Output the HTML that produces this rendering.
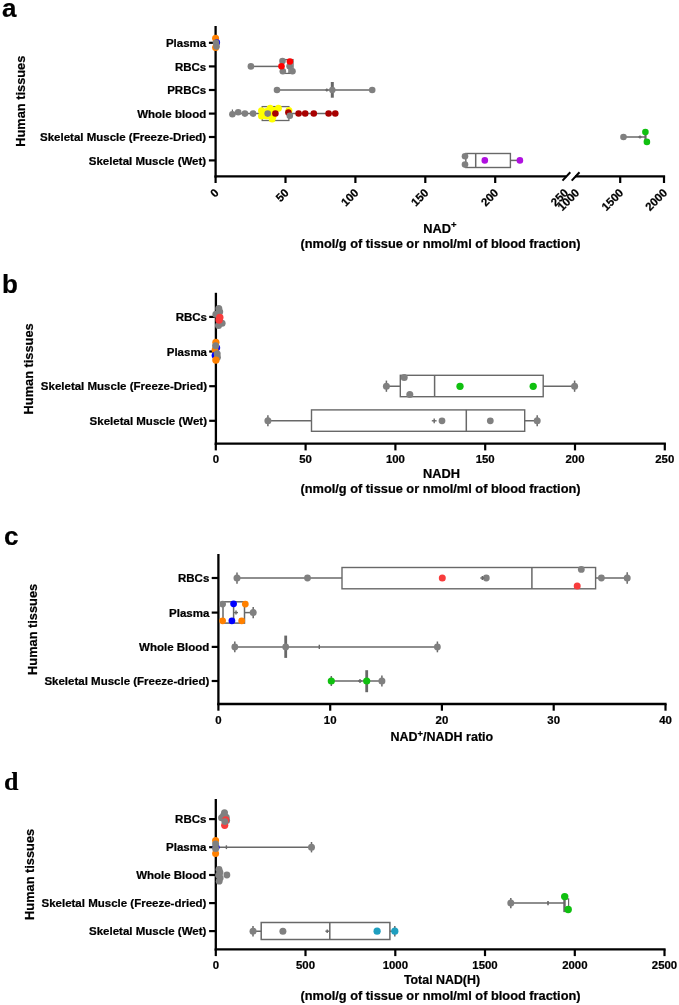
<!DOCTYPE html>
<html><head><meta charset="utf-8"><title>Figure</title>
<style>
html,body{margin:0;padding:0;background:#fff;}
svg{display:block;will-change:transform;font-family:"Liberation Sans",sans-serif;fill:#000;}
text{stroke:#000;stroke-width:0.22px;}
</style></head><body>
<svg width="679" height="1005" viewBox="0 0 679 1005">
<rect width="679" height="1005" fill="#fff"/>
<text x="2" y="16.8" font-size="26" text-anchor="start" font-family="Liberation Sans" font-weight="bold">a</text>
<text transform="translate(25.3,101.2) rotate(-90)" font-size="12.8" text-anchor="middle" font-weight="bold">Human tissues</text>
<line x1="215.6" y1="26" x2="215.6" y2="177.5" stroke="#000" stroke-width="2.3"/>
<line x1="208.9" y1="42.8" x2="215.6" y2="42.8" stroke="#000" stroke-width="2.2"/>
<text x="206.2" y="46.9" font-size="11.5" text-anchor="end" font-family="Liberation Sans" font-weight="bold">Plasma</text>
<line x1="208.9" y1="66.4" x2="215.6" y2="66.4" stroke="#000" stroke-width="2.2"/>
<text x="206.2" y="70.5" font-size="11.5" text-anchor="end" font-family="Liberation Sans" font-weight="bold">RBCs</text>
<line x1="208.9" y1="90" x2="215.6" y2="90" stroke="#000" stroke-width="2.2"/>
<text x="206.2" y="94.1" font-size="11.5" text-anchor="end" font-family="Liberation Sans" font-weight="bold">PRBCs</text>
<line x1="208.9" y1="113.6" x2="215.6" y2="113.6" stroke="#000" stroke-width="2.2"/>
<text x="206.2" y="117.7" font-size="11.5" text-anchor="end" font-family="Liberation Sans" font-weight="bold">Whole blood</text>
<line x1="208.9" y1="137" x2="215.6" y2="137" stroke="#000" stroke-width="2.2"/>
<text x="206.2" y="141.1" font-size="11.5" text-anchor="end" font-family="Liberation Sans" font-weight="bold">Skeletal Muscle (Freeze-Dried)</text>
<line x1="208.9" y1="160.4" x2="215.6" y2="160.4" stroke="#000" stroke-width="2.2"/>
<text x="206.2" y="164.5" font-size="11.5" text-anchor="end" font-family="Liberation Sans" font-weight="bold">Skeletal Muscle (Wet)</text>
<line x1="214.5" y1="176.4" x2="566.5" y2="176.4" stroke="#000" stroke-width="2.3"/>
<line x1="575" y1="176.4" x2="665.1" y2="176.4" stroke="#000" stroke-width="2.3"/>
<line x1="562.5" y1="180.6" x2="570.3" y2="172.2" stroke="#000" stroke-width="2"/>
<line x1="571.7" y1="180.6" x2="579.5" y2="172.2" stroke="#000" stroke-width="2"/>
<line x1="215.6" y1="176.4" x2="215.6" y2="183" stroke="#000" stroke-width="2.2"/>
<text transform="translate(219.5,193.6) rotate(-45)" font-size="11.4" text-anchor="end" font-weight="bold">0</text>
<line x1="285.5" y1="176.4" x2="285.5" y2="183" stroke="#000" stroke-width="2.2"/>
<text transform="translate(289.4,193.6) rotate(-45)" font-size="11.4" text-anchor="end" font-weight="bold">50</text>
<line x1="355.4" y1="176.4" x2="355.4" y2="183" stroke="#000" stroke-width="2.2"/>
<text transform="translate(359.3,193.6) rotate(-45)" font-size="11.4" text-anchor="end" font-weight="bold">100</text>
<line x1="425.3" y1="176.4" x2="425.3" y2="183" stroke="#000" stroke-width="2.2"/>
<text transform="translate(429.2,193.6) rotate(-45)" font-size="11.4" text-anchor="end" font-weight="bold">150</text>
<line x1="495.2" y1="176.4" x2="495.2" y2="183" stroke="#000" stroke-width="2.2"/>
<text transform="translate(499.1,193.6) rotate(-45)" font-size="11.4" text-anchor="end" font-weight="bold">200</text>
<text transform="translate(569.0,193.6) rotate(-45)" font-size="11.4" text-anchor="end" font-weight="bold">250</text>
<text transform="translate(580.1,193.6) rotate(-45)" font-size="11.4" text-anchor="end" font-weight="bold">1000</text>
<line x1="620.2" y1="176.4" x2="620.2" y2="183" stroke="#000" stroke-width="2.2"/>
<text transform="translate(624.1,193.6) rotate(-45)" font-size="11.4" text-anchor="end" font-weight="bold">1500</text>
<line x1="664" y1="176.4" x2="664" y2="183" stroke="#000" stroke-width="2.2"/>
<text transform="translate(667.9,193.6) rotate(-45)" font-size="11.4" text-anchor="end" font-weight="bold">2000</text>
<text x="440" y="232.5" font-size="12.8" text-anchor="middle" font-family="Liberation Sans" font-weight="bold">NAD<tspan dy="-4.5" font-size="9.5">+</tspan></text>
<text x="440.5" y="248" font-size="12.8" text-anchor="middle" font-family="Liberation Sans" font-weight="bold">(nmol/g of tissue or nmol/ml of blood fraction)</text>
<circle cx="215.6" cy="38.2" r="3.5" fill="#ff8000"/>
<circle cx="215.6" cy="47.6" r="3.5" fill="#ff8000"/>
<circle cx="216.9" cy="42.4" r="3.2" fill="#0000ff"/>
<circle cx="216" cy="42.7" r="3.3" fill="#808080"/>
<circle cx="216.5" cy="46.4" r="3.3" fill="#808080"/>
<line x1="251" y1="66.4" x2="283" y2="66.4" stroke="#686868" stroke-width="1.5"/>
<rect x="283" y="59.6" width="10" height="13.8" fill="#fff" stroke="#686868" stroke-width="1.3"/>
<line x1="289" y1="59.6" x2="289" y2="73.4" stroke="#686868" stroke-width="1.3"/>
<circle cx="250.9" cy="66.4" r="3.3" fill="#808080"/>
<circle cx="282.5" cy="61" r="3.3" fill="#808080"/>
<circle cx="289.6" cy="66.3" r="3.3" fill="#808080"/>
<circle cx="282.8" cy="71.2" r="3.3" fill="#808080"/>
<circle cx="292.5" cy="71.2" r="3.3" fill="#808080"/>
<circle cx="289.9" cy="61.5" r="3.3" fill="#ff0000"/>
<circle cx="281.5" cy="66.2" r="3.3" fill="#ff0000"/>
<line x1="277" y1="90" x2="372" y2="90" stroke="#686868" stroke-width="1.5"/>
<line x1="332.3" y1="82" x2="332.3" y2="97.7" stroke="#686868" stroke-width="3"/>
<line x1="325.3" y1="90" x2="328.3" y2="90" stroke="#686868" stroke-width="1.4"/>
<line x1="326.8" y1="88.5" x2="326.8" y2="91.5" stroke="#686868" stroke-width="1.4"/>
<circle cx="277" cy="90" r="3.3" fill="#808080"/>
<circle cx="372.2" cy="90" r="3.3" fill="#808080"/>
<circle cx="332.3" cy="90" r="3.2" fill="#808080"/>
<line x1="232" y1="113.6" x2="335" y2="113.6" stroke="#686868" stroke-width="1.5"/>
<rect x="262.2" y="106.6" width="26.7" height="13.9" fill="#fff" stroke="#686868" stroke-width="1.3"/>
<line x1="232.4" y1="109.5" x2="232.4" y2="113" stroke="#686868" stroke-width="1.2"/>
<circle cx="261.5" cy="110.8" r="3.5" fill="#ffff00"/>
<circle cx="261.5" cy="116.1" r="3.5" fill="#ffff00"/>
<circle cx="270.1" cy="108.2" r="3.5" fill="#ffff00"/>
<circle cx="278.4" cy="108.2" r="3.5" fill="#ffff00"/>
<circle cx="272.1" cy="119" r="3.5" fill="#ffff00"/>
<circle cx="288.9" cy="110.4" r="3.5" fill="#ffff00"/>
<circle cx="266.5" cy="111.5" r="3.5" fill="#ffff00"/>
<circle cx="266.5" cy="116" r="3.5" fill="#ffff00"/>
<circle cx="271" cy="113" r="3.5" fill="#ffff00"/>
<circle cx="274.5" cy="110.5" r="3.5" fill="#ffff00"/>
<circle cx="273" cy="116.5" r="3.5" fill="#ffff00"/>
<circle cx="232.4" cy="114.3" r="3.3" fill="#808080"/>
<circle cx="238.2" cy="112.2" r="3.3" fill="#808080"/>
<circle cx="244.9" cy="113.6" r="3.3" fill="#808080"/>
<circle cx="253.1" cy="113.6" r="3.3" fill="#808080"/>
<circle cx="267.7" cy="113.6" r="3.3" fill="#808080"/>
<circle cx="275.4" cy="113.5" r="3.3" fill="#a80000"/>
<circle cx="288.4" cy="112.6" r="3.3" fill="#a80000"/>
<circle cx="298.6" cy="113.5" r="3.3" fill="#a80000"/>
<circle cx="305.2" cy="113.5" r="3.3" fill="#a80000"/>
<circle cx="313.8" cy="113.5" r="3.3" fill="#a80000"/>
<circle cx="328.6" cy="113.5" r="3.3" fill="#a80000"/>
<circle cx="335.3" cy="113.5" r="3.3" fill="#a80000"/>
<circle cx="289.8" cy="115.7" r="3.3" fill="#808080"/>
<line x1="623.5" y1="137" x2="645" y2="137" stroke="#686868" stroke-width="1.5"/>
<line x1="645.5" y1="132.5" x2="645.5" y2="141.5" stroke="#686868" stroke-width="2.2"/>
<line x1="638.4" y1="137" x2="641.6" y2="137" stroke="#686868" stroke-width="1.4"/>
<line x1="640" y1="135.4" x2="640" y2="138.6" stroke="#686868" stroke-width="1.4"/>
<circle cx="623.5" cy="137" r="3.3" fill="#808080"/>
<circle cx="645.4" cy="132.1" r="3.3" fill="#10c010"/>
<circle cx="646.9" cy="141.9" r="3.3" fill="#10c010"/>
<rect x="465.8" y="153.5" width="44.6" height="14.0" fill="none" stroke="#686868" stroke-width="1.4"/>
<line x1="475.7" y1="153.5" x2="475.7" y2="167.5" stroke="#686868" stroke-width="1.5"/>
<line x1="510.4" y1="160.4" x2="520" y2="160.4" stroke="#686868" stroke-width="1.5"/>
<circle cx="465" cy="156.2" r="3.3" fill="#808080"/>
<circle cx="465" cy="164.6" r="3.3" fill="#808080"/>
<circle cx="484.8" cy="160.4" r="3.3" fill="#b010e0"/>
<circle cx="519.9" cy="160.4" r="3.3" fill="#b010e0"/>
<text x="2" y="293.4" font-size="26" text-anchor="start" font-family="Liberation Sans" font-weight="bold">b</text>
<text transform="translate(33.1,368.9) rotate(-90)" font-size="12.8" text-anchor="middle" font-weight="bold">Human tissues</text>
<line x1="215.9" y1="292.8" x2="215.9" y2="444.8" stroke="#000" stroke-width="2.3"/>
<line x1="209.2" y1="316.9" x2="215.9" y2="316.9" stroke="#000" stroke-width="2.2"/>
<text x="207" y="321.0" font-size="11.5" text-anchor="end" font-family="Liberation Sans" font-weight="bold">RBCs</text>
<line x1="209.2" y1="351.5" x2="215.9" y2="351.5" stroke="#000" stroke-width="2.2"/>
<text x="207" y="355.6" font-size="11.5" text-anchor="end" font-family="Liberation Sans" font-weight="bold">Plasma</text>
<line x1="209.2" y1="386.2" x2="215.9" y2="386.2" stroke="#000" stroke-width="2.2"/>
<text x="207" y="390.3" font-size="11.5" text-anchor="end" font-family="Liberation Sans" font-weight="bold">Skeletal Muscle (Freeze-Dried)</text>
<line x1="209.2" y1="420.8" x2="215.9" y2="420.8" stroke="#000" stroke-width="2.2"/>
<text x="207" y="424.9" font-size="11.5" text-anchor="end" font-family="Liberation Sans" font-weight="bold">Skeletal Muscle (Wet)</text>
<line x1="214.7" y1="443.7" x2="665.9" y2="443.7" stroke="#000" stroke-width="2.3"/>
<line x1="215.8" y1="443.7" x2="215.8" y2="450.4" stroke="#000" stroke-width="2.2"/>
<text x="215.8" y="463.4" font-size="11.4" text-anchor="middle" font-family="Liberation Sans" font-weight="bold">0</text>
<line x1="305.6" y1="443.7" x2="305.6" y2="450.4" stroke="#000" stroke-width="2.2"/>
<text x="305.6" y="463.4" font-size="11.4" text-anchor="middle" font-family="Liberation Sans" font-weight="bold">50</text>
<line x1="395.4" y1="443.7" x2="395.4" y2="450.4" stroke="#000" stroke-width="2.2"/>
<text x="395.4" y="463.4" font-size="11.4" text-anchor="middle" font-family="Liberation Sans" font-weight="bold">100</text>
<line x1="485.2" y1="443.7" x2="485.2" y2="450.4" stroke="#000" stroke-width="2.2"/>
<text x="485.2" y="463.4" font-size="11.4" text-anchor="middle" font-family="Liberation Sans" font-weight="bold">150</text>
<line x1="575" y1="443.7" x2="575" y2="450.4" stroke="#000" stroke-width="2.2"/>
<text x="575" y="463.4" font-size="11.4" text-anchor="middle" font-family="Liberation Sans" font-weight="bold">200</text>
<line x1="664.8" y1="443.7" x2="664.8" y2="450.4" stroke="#000" stroke-width="2.2"/>
<text x="664.8" y="463.4" font-size="11.4" text-anchor="middle" font-family="Liberation Sans" font-weight="bold">250</text>
<text x="441.4" y="478" font-size="12.8" text-anchor="middle" font-family="Liberation Sans" font-weight="bold">NADH</text>
<text x="440.5" y="493" font-size="12.8" text-anchor="middle" font-family="Liberation Sans" font-weight="bold">(nmol/g of tissue or nmol/ml of blood fraction)</text>
<circle cx="218.8" cy="308.4" r="3.5" fill="#808080"/>
<circle cx="219.7" cy="311.8" r="3.5" fill="#808080"/>
<circle cx="215.9" cy="314.2" r="3.5" fill="#808080"/>
<circle cx="218.5" cy="325.6" r="3.5" fill="#808080"/>
<circle cx="222.1" cy="323.3" r="3.5" fill="#808080"/>
<circle cx="219.8" cy="317.4" r="3.7" fill="#f83c3c"/>
<circle cx="219.1" cy="320" r="3.7" fill="#f83c3c"/>
<circle cx="215.9" cy="342.3" r="3.6" fill="#ff8000"/>
<circle cx="216.8" cy="347.8" r="3.4" fill="#0000ff"/>
<circle cx="215" cy="350" r="3.4" fill="#ff8000"/>
<circle cx="215.6" cy="345.8" r="3.5" fill="#808080"/>
<circle cx="215" cy="355.5" r="3.4" fill="#0000ff"/>
<circle cx="217.2" cy="353.7" r="3.5" fill="#808080"/>
<circle cx="217.4" cy="357.3" r="3.5" fill="#808080"/>
<circle cx="215.9" cy="360.1" r="3.7" fill="#ff8000"/>
<line x1="386.4" y1="386.2" x2="574.6" y2="386.2" stroke="#686868" stroke-width="1.5"/>
<rect x="400.3" y="375.3" width="142.9" height="21.4" fill="#fff" stroke="#686868" stroke-width="1.4"/>
<line x1="434.6" y1="375.3" x2="434.6" y2="396.7" stroke="#686868" stroke-width="1.5"/>
<line x1="386.4" y1="380.6" x2="386.4" y2="391.8" stroke="#686868" stroke-width="1.5"/>
<line x1="574.6" y1="380.6" x2="574.6" y2="391.8" stroke="#686868" stroke-width="1.5"/>
<circle cx="386.4" cy="386.2" r="3.5" fill="#808080"/>
<circle cx="574.6" cy="386.2" r="3.5" fill="#808080"/>
<circle cx="404.2" cy="377.5" r="3.5" fill="#808080"/>
<circle cx="409.8" cy="394.5" r="3.5" fill="#808080"/>
<circle cx="460" cy="386.3" r="3.65" fill="#10c010"/>
<circle cx="533.2" cy="386.3" r="3.65" fill="#10c010"/>
<line x1="267.9" y1="420.8" x2="537.2" y2="420.8" stroke="#686868" stroke-width="1.5"/>
<rect x="311.5" y="409.9" width="213.2" height="21.4" fill="#fff" stroke="#686868" stroke-width="1.4"/>
<line x1="466.3" y1="409.9" x2="466.3" y2="431.3" stroke="#686868" stroke-width="1.5"/>
<line x1="267.9" y1="415.3" x2="267.9" y2="426.3" stroke="#686868" stroke-width="1.5"/>
<line x1="537.2" y1="415.3" x2="537.2" y2="426.3" stroke="#686868" stroke-width="1.5"/>
<circle cx="267.9" cy="420.8" r="3.5" fill="#808080"/>
<circle cx="537.2" cy="420.8" r="3.5" fill="#808080"/>
<circle cx="442" cy="420.8" r="3.4" fill="#808080"/>
<circle cx="490.3" cy="420.8" r="3.4" fill="#808080"/>
<line x1="431.8" y1="420.8" x2="436.6" y2="420.8" stroke="#686868" stroke-width="1.4"/>
<line x1="434.2" y1="418.4" x2="434.2" y2="423.2" stroke="#686868" stroke-width="1.4"/>
<text x="4" y="544.6" font-size="26" text-anchor="start" font-family="Liberation Sans" font-weight="bold">c</text>
<text transform="translate(37.3,629.4) rotate(-90)" font-size="12.8" text-anchor="middle" font-weight="bold">Human tissues</text>
<line x1="218.4" y1="554" x2="218.4" y2="705.1" stroke="#000" stroke-width="2.3"/>
<line x1="211.7" y1="578" x2="218.4" y2="578" stroke="#000" stroke-width="2.2"/>
<text x="209.3" y="582.1" font-size="11.5" text-anchor="end" font-family="Liberation Sans" font-weight="bold">RBCs</text>
<line x1="211.7" y1="612.6" x2="218.4" y2="612.6" stroke="#000" stroke-width="2.2"/>
<text x="209.3" y="616.7" font-size="11.5" text-anchor="end" font-family="Liberation Sans" font-weight="bold">Plasma</text>
<line x1="211.7" y1="646.9" x2="218.4" y2="646.9" stroke="#000" stroke-width="2.2"/>
<text x="209.3" y="651.0" font-size="11.5" text-anchor="end" font-family="Liberation Sans" font-weight="bold">Whole Blood</text>
<line x1="211.7" y1="681" x2="218.4" y2="681" stroke="#000" stroke-width="2.2"/>
<text x="209.3" y="685.1" font-size="11.5" text-anchor="end" font-family="Liberation Sans" font-weight="bold">Skeletal Muscle (Freeze-dried)</text>
<line x1="217.3" y1="704" x2="666.6" y2="704" stroke="#000" stroke-width="2.3"/>
<line x1="218.4" y1="704" x2="218.4" y2="710.7" stroke="#000" stroke-width="2.2"/>
<text x="218.4" y="723.5" font-size="11.4" text-anchor="middle" font-family="Liberation Sans" font-weight="bold">0</text>
<line x1="330.2" y1="704" x2="330.2" y2="710.7" stroke="#000" stroke-width="2.2"/>
<text x="330.2" y="723.5" font-size="11.4" text-anchor="middle" font-family="Liberation Sans" font-weight="bold">10</text>
<line x1="441.9" y1="704" x2="441.9" y2="710.7" stroke="#000" stroke-width="2.2"/>
<text x="441.9" y="723.5" font-size="11.4" text-anchor="middle" font-family="Liberation Sans" font-weight="bold">20</text>
<line x1="553.7" y1="704" x2="553.7" y2="710.7" stroke="#000" stroke-width="2.2"/>
<text x="553.7" y="723.5" font-size="11.4" text-anchor="middle" font-family="Liberation Sans" font-weight="bold">30</text>
<line x1="665.5" y1="704" x2="665.5" y2="710.7" stroke="#000" stroke-width="2.2"/>
<text x="665.5" y="723.5" font-size="11.4" text-anchor="middle" font-family="Liberation Sans" font-weight="bold">40</text>
<text x="441.8" y="741" font-size="12.5" text-anchor="middle" font-family="Liberation Sans" font-weight="bold">NAD<tspan dy="-4.5" font-size="9.5">+</tspan><tspan dy="4.5">/NADH ratio</tspan></text>
<line x1="237" y1="578" x2="627.2" y2="578" stroke="#686868" stroke-width="1.5"/>
<rect x="342" y="567.5" width="253.6" height="21.3" fill="#fff" stroke="#686868" stroke-width="1.4"/>
<line x1="531.9" y1="567.5" x2="531.9" y2="588.8" stroke="#686868" stroke-width="1.5"/>
<line x1="237" y1="572.4" x2="237" y2="583.7" stroke="#686868" stroke-width="1.5"/>
<line x1="627.2" y1="572.3" x2="627.2" y2="583.7" stroke="#686868" stroke-width="1.5"/>
<circle cx="237" cy="578" r="3.5" fill="#808080"/>
<circle cx="307.5" cy="578" r="3.4" fill="#808080"/>
<circle cx="442.3" cy="578" r="3.5" fill="#f83c3c"/>
<circle cx="486.3" cy="578" r="3.4" fill="#808080"/>
<line x1="480.3" y1="578" x2="484.3" y2="578" stroke="#686868" stroke-width="1.4"/>
<line x1="482.3" y1="576" x2="482.3" y2="580" stroke="#686868" stroke-width="1.4"/>
<circle cx="581.3" cy="569.4" r="3.4" fill="#808080"/>
<circle cx="577.2" cy="586" r="3.5" fill="#f83c3c"/>
<circle cx="601.4" cy="578" r="3.4" fill="#808080"/>
<circle cx="627.2" cy="578" r="3.5" fill="#808080"/>
<line x1="244.5" y1="612.6" x2="253.2" y2="612.6" stroke="#686868" stroke-width="1.5"/>
<rect x="223" y="601.8" width="21.5" height="21.3" fill="#fff" stroke="#686868" stroke-width="1.5"/>
<line x1="233.6" y1="601.8" x2="233.6" y2="623.1" stroke="#686868" stroke-width="1.5"/>
<line x1="234" y1="612.6" x2="238" y2="612.6" stroke="#686868" stroke-width="1.4"/>
<line x1="236" y1="610.6" x2="236" y2="614.6" stroke="#686868" stroke-width="1.4"/>
<line x1="253.2" y1="606.9" x2="253.2" y2="618.2" stroke="#686868" stroke-width="1.5"/>
<circle cx="222.6" cy="604.1" r="3.4" fill="#808080"/>
<circle cx="233.6" cy="603.8" r="3.4" fill="#0000ff"/>
<circle cx="245.3" cy="604.1" r="3.4" fill="#ff8000"/>
<circle cx="222.6" cy="620.8" r="3.4" fill="#ff8000"/>
<circle cx="231.9" cy="620.8" r="3.4" fill="#0000ff"/>
<circle cx="241.7" cy="620.8" r="3.4" fill="#ff8000"/>
<circle cx="253.2" cy="612.6" r="3.5" fill="#808080"/>
<line x1="234.8" y1="646.9" x2="437.4" y2="646.9" stroke="#686868" stroke-width="1.5"/>
<line x1="285.7" y1="635.6" x2="285.7" y2="657.9" stroke="#686868" stroke-width="2.8"/>
<line x1="319.3" y1="644.8" x2="319.3" y2="649" stroke="#686868" stroke-width="1.4"/>
<line x1="234.8" y1="641.5" x2="234.8" y2="652.3" stroke="#686868" stroke-width="1.5"/>
<line x1="437.4" y1="641.5" x2="437.4" y2="652.3" stroke="#686868" stroke-width="1.5"/>
<circle cx="234.8" cy="646.9" r="3.4" fill="#808080"/>
<circle cx="285.7" cy="646.9" r="3.4" fill="#808080"/>
<circle cx="437.4" cy="646.9" r="3.4" fill="#808080"/>
<line x1="331.3" y1="681" x2="381.9" y2="681" stroke="#686868" stroke-width="1.5"/>
<line x1="366.7" y1="670.2" x2="366.7" y2="692.2" stroke="#686868" stroke-width="2.8"/>
<line x1="358" y1="681" x2="362" y2="681" stroke="#686868" stroke-width="1.4"/>
<line x1="360" y1="679" x2="360" y2="683" stroke="#686868" stroke-width="1.4"/>
<line x1="331.3" y1="676" x2="331.3" y2="686" stroke="#686868" stroke-width="1.5"/>
<line x1="381.9" y1="675.5" x2="381.9" y2="686.5" stroke="#686868" stroke-width="1.5"/>
<circle cx="331.3" cy="681" r="3.6" fill="#10c010"/>
<circle cx="366.7" cy="681" r="3.6" fill="#10c010"/>
<circle cx="381.9" cy="681" r="3.5" fill="#808080"/>
<text x="4" y="790" font-size="26" text-anchor="start" font-family="Liberation Serif" font-weight="bold">d</text>
<text transform="translate(33.8,874.4) rotate(-90)" font-size="12.8" text-anchor="middle" font-weight="bold">Human tissues</text>
<line x1="215.8" y1="799" x2="215.8" y2="950.5" stroke="#000" stroke-width="2.3"/>
<line x1="209.1" y1="819.1" x2="215.8" y2="819.1" stroke="#000" stroke-width="2.2"/>
<text x="206.4" y="823.2" font-size="11.5" text-anchor="end" font-family="Liberation Sans" font-weight="bold">RBCs</text>
<line x1="209.1" y1="847.2" x2="215.8" y2="847.2" stroke="#000" stroke-width="2.2"/>
<text x="206.4" y="851.3" font-size="11.5" text-anchor="end" font-family="Liberation Sans" font-weight="bold">Plasma</text>
<line x1="209.1" y1="875" x2="215.8" y2="875" stroke="#000" stroke-width="2.2"/>
<text x="206.4" y="879.1" font-size="11.5" text-anchor="end" font-family="Liberation Sans" font-weight="bold">Whole Blood</text>
<line x1="209.1" y1="903.1" x2="215.8" y2="903.1" stroke="#000" stroke-width="2.2"/>
<text x="206.4" y="907.2" font-size="11.5" text-anchor="end" font-family="Liberation Sans" font-weight="bold">Skeletal Muscle (Freeze-dried)</text>
<line x1="209.1" y1="931.1" x2="215.8" y2="931.1" stroke="#000" stroke-width="2.2"/>
<text x="206.4" y="935.2" font-size="11.5" text-anchor="end" font-family="Liberation Sans" font-weight="bold">Skeletal Muscle (Wet)</text>
<line x1="214.7" y1="949.4" x2="665.6" y2="949.4" stroke="#000" stroke-width="2.3"/>
<line x1="215.8" y1="949.4" x2="215.8" y2="956.1" stroke="#000" stroke-width="2.2"/>
<text x="215.8" y="968.9" font-size="11.4" text-anchor="middle" font-family="Liberation Sans" font-weight="bold">0</text>
<line x1="305.5" y1="949.4" x2="305.5" y2="956.1" stroke="#000" stroke-width="2.2"/>
<text x="305.5" y="968.9" font-size="11.4" text-anchor="middle" font-family="Liberation Sans" font-weight="bold">500</text>
<line x1="395.3" y1="949.4" x2="395.3" y2="956.1" stroke="#000" stroke-width="2.2"/>
<text x="395.3" y="968.9" font-size="11.4" text-anchor="middle" font-family="Liberation Sans" font-weight="bold">1000</text>
<line x1="485" y1="949.4" x2="485" y2="956.1" stroke="#000" stroke-width="2.2"/>
<text x="485" y="968.9" font-size="11.4" text-anchor="middle" font-family="Liberation Sans" font-weight="bold">1500</text>
<line x1="574.8" y1="949.4" x2="574.8" y2="956.1" stroke="#000" stroke-width="2.2"/>
<text x="574.8" y="968.9" font-size="11.4" text-anchor="middle" font-family="Liberation Sans" font-weight="bold">2000</text>
<line x1="664.5" y1="949.4" x2="664.5" y2="956.1" stroke="#000" stroke-width="2.2"/>
<text x="664.5" y="968.9" font-size="11.4" text-anchor="middle" font-family="Liberation Sans" font-weight="bold">2500</text>
<text x="442" y="983.6" font-size="12.4" text-anchor="middle" font-family="Liberation Sans" font-weight="bold">Total NAD(H)</text>
<text x="440.5" y="999.5" font-size="12.8" text-anchor="middle" font-family="Liberation Sans" font-weight="bold">(nmol/g of tissue or nmol/ml of blood fraction)</text>
<circle cx="224.5" cy="812.8" r="3.5" fill="#808080"/>
<circle cx="221.6" cy="817.7" r="3.5" fill="#808080"/>
<circle cx="223.6" cy="815.6" r="3.5" fill="#808080"/>
<circle cx="226.2" cy="817.3" r="3.5" fill="#808080"/>
<circle cx="226.6" cy="820.6" r="3.5" fill="#808080"/>
<circle cx="225.7" cy="819.8" r="3.6" fill="#f83c3c"/>
<circle cx="224.7" cy="825.3" r="3.6" fill="#f83c3c"/>
<circle cx="224.8" cy="821.6" r="3.4" fill="#808080"/>
<line x1="216" y1="847.2" x2="311.5" y2="847.2" stroke="#686868" stroke-width="1.5"/>
<line x1="226.4" y1="845.3" x2="226.4" y2="849.1" stroke="#686868" stroke-width="1.4"/>
<line x1="311.5" y1="842" x2="311.5" y2="852.4" stroke="#686868" stroke-width="1.5"/>
<circle cx="215.6" cy="840.4" r="3.5" fill="#ff8000"/>
<circle cx="215.6" cy="853.5" r="3.5" fill="#ff8000"/>
<circle cx="216" cy="847.3" r="3.6" fill="#0000ff"/>
<circle cx="215.6" cy="843.9" r="3.5" fill="#808080"/>
<circle cx="215.6" cy="848.4" r="3.5" fill="#808080"/>
<circle cx="311.5" cy="847.2" r="3.5" fill="#808080"/>
<circle cx="219" cy="869.3" r="3.4" fill="#808080"/>
<circle cx="220" cy="872.5" r="3.4" fill="#808080"/>
<circle cx="218.6" cy="875.2" r="3.4" fill="#808080"/>
<circle cx="220.2" cy="878" r="3.4" fill="#808080"/>
<circle cx="219.2" cy="881.2" r="3.4" fill="#808080"/>
<circle cx="226.9" cy="875" r="3.4" fill="#808080"/>
<line x1="510.8" y1="903.1" x2="564.5" y2="903.1" stroke="#686868" stroke-width="1.5"/>
<rect x="564.5" y="898.9" width="4.1" height="11.1" fill="none" stroke="#686868" stroke-width="1.2"/>
<line x1="564.5" y1="897.7" x2="564.5" y2="912.1" stroke="#686868" stroke-width="2.4"/>
<line x1="548" y1="901" x2="548" y2="905.2" stroke="#686868" stroke-width="1.6"/>
<line x1="510.8" y1="898" x2="510.8" y2="908.2" stroke="#686868" stroke-width="1.5"/>
<circle cx="510.8" cy="903.1" r="3.5" fill="#808080"/>
<circle cx="564.7" cy="896.6" r="3.7" fill="#10c010"/>
<circle cx="568.2" cy="909.5" r="3.7" fill="#10c010"/>
<line x1="253" y1="931.2" x2="394.8" y2="931.2" stroke="#686868" stroke-width="1.5"/>
<rect x="261.2" y="922.5" width="128.7" height="17.0" fill="#fff" stroke="#686868" stroke-width="1.5"/>
<line x1="329.8" y1="922.5" x2="329.8" y2="939.5" stroke="#686868" stroke-width="1.5"/>
<line x1="325.4" y1="931.2" x2="329.0" y2="931.2" stroke="#686868" stroke-width="1.4"/>
<line x1="327.2" y1="929.4" x2="327.2" y2="933.0" stroke="#686868" stroke-width="1.4"/>
<line x1="253" y1="926" x2="253" y2="936.4" stroke="#686868" stroke-width="1.5"/>
<line x1="394.8" y1="926" x2="394.8" y2="936.4" stroke="#686868" stroke-width="1.5"/>
<circle cx="253" cy="931.2" r="3.5" fill="#808080"/>
<circle cx="282.9" cy="931.2" r="3.5" fill="#808080"/>
<circle cx="377.1" cy="931.2" r="3.6" fill="#1f9fbf"/>
<circle cx="394.8" cy="931.2" r="3.6" fill="#1f9fbf"/>
</svg>
</body></html>
